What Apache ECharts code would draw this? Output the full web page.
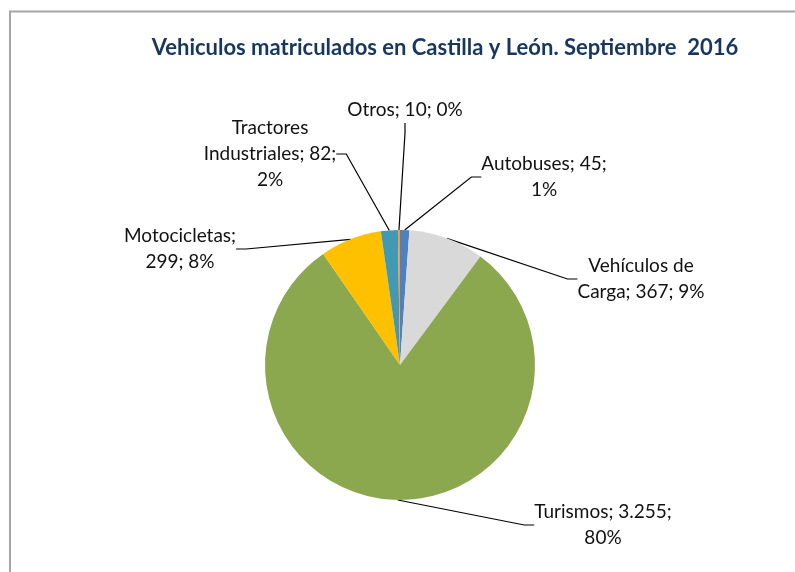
<!DOCTYPE html>
<html>
<head>
<meta charset="utf-8">
<script src="https://cdn.jsdelivr.net/npm/echarts@6/dist/echarts.min.js"></script>
<style>
  html, body { margin: 0; padding: 0; background: #fff; }
  #chart { width: 795px; height: 572px; }
</style>
</head>
<body>
<div id="chart"></div>
<script>
// datos
var categorias = ['Autobuses', 'Vehículos de Carga', 'Turismos', 'Motocicletas', 'Tractores Industriales', 'Otros'];
var valores = [45, 367, 3255, 299, 82, 10];
var porcentajes = [1, 9, 80, 8, 2, 0];
var colores = ['#4F81BD', '#D9D9D9', '#8BA84F', '#FFC000', '#4199B3', '#F79646'];

// saltos de linea de cada etiqueta (despues de la palabra n)
var saltos = [[1], [1], [1], [0], [0, 2], []];
// posicion del centro de cada etiqueta
var etiquetaX = [544, 641, 603, 180, 270, 405];
var etiquetaY = [177, 279, 525, 249, 154, 110];

function miles(v) {
  return String(v).replace(/\B(?=(\d{3})+(?!\d))/g, '.');
}

var myChart = echarts.init(document.getElementById('chart'));
var option = {
  animation: false,
  title: {
    text: 'Vehiculos matriculados en Castilla y León. Septiembre  2016',
    left: 440,
    top: 32,
    textAlign: 'center',
    textStyle: {
      fontFamily: 'Lato',
      fontSize: 22,
      fontWeight: 'bold',
      color: '#17375E'
    }
  },
  graphic: [{
    type: 'polyline',
    shape: { points: [[10, 572], [10, 11.5], [795, 11.5]] },
    style: { stroke: '#A6A6A6', lineWidth: 2, fill: null },
    silent: true
  }],
  series: [{
    type: 'pie',
    center: [400, 365],
    radius: 135,
    startAngle: 90,
    clockwise: true,
    avoidLabelOverlap: false,
    color: colores,
    itemStyle: { borderWidth: 0 },
    label: {
      show: true,
      fontFamily: 'Lato',
      fontSize: 19,
      lineHeight: 26,
      color: '#111',
      formatter: function (p) {
        var i = p.dataIndex;
        var palabras = (p.name + '; ' + miles(p.value) + '; ' + porcentajes[i] + '%').split(' ');
        var txt = '';
        palabras.forEach(function (w, k) {
          txt += w;
          if (k < palabras.length - 1) txt += saltos[i].indexOf(k) >= 0 ? '\n' : ' ';
        });
        return txt;
      }
    },
    labelLine: {
      show: true,
      length: 20,
      length2: 10,
      lineStyle: { color: '#000', width: 1.2 }
    },
    labelLayout: function (params) {
      var i = params.dataIndex;
      return { x: etiquetaX[i], y: etiquetaY[i], align: 'center', verticalAlign: 'middle' };
    },
    emphasis: { disabled: true },
    data: categorias.map(function (c, i) {
      return { name: c, value: valores[i] };
    })
  }]
};
myChart.setOption(option);
</script>
</body>
</html>
